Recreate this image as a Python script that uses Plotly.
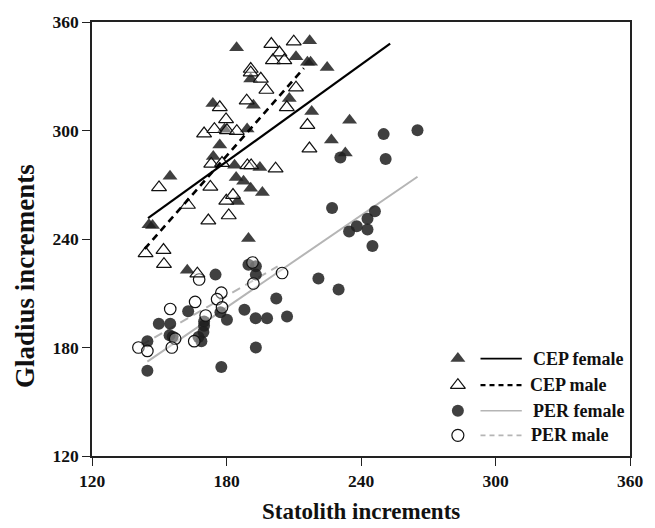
import plotly.graph_objects as go

# ---------------- data ----------------
cep_female_x = [184.5, 217.1, 211.0, 216.1, 217.5, 224.9, 190.8, 208.0, 192.0, 173.9,
                218.0, 234.9, 179.1, 189.2, 226.8, 177.0, 233.0, 174.1, 183.6, 194.9,
                154.8, 184.3, 187.6, 190.8, 196.0, 184.9, 145.4, 147.0, 189.8, 162.5]
cep_female_y = [345.8, 349.7, 340.8, 337.7, 337.7, 334.8, 328.5, 317.7, 314.0, 314.9,
                310.5, 305.6, 300.7, 300.8, 294.7, 292.0, 287.5, 285.6, 280.8, 279.6,
                274.7, 274.0, 272.0, 268.0, 265.7, 260.8, 247.9, 247.5, 240.3, 222.7]

cep_male_x = [200.0, 210.0, 203.6, 200.7, 205.8, 190.8, 190.8, 195.3, 197.8, 211.0,
              189.0, 177.0, 206.9, 179.8, 216.1, 170.0, 174.6, 180.2, 184.6, 217.0,
              173.2, 178.0, 189.3, 191.0, 201.9, 149.9, 172.8, 179.9, 182.9, 162.8,
              181.0, 171.9, 143.9, 151.9, 152.1, 167.0]
cep_male_y = [347.8, 349.1, 343.1, 338.8, 338.8, 334.0, 332.0, 328.6, 322.4, 323.7,
              316.5, 312.8, 312.8, 306.1, 303.0, 298.3, 300.7, 300.1, 299.6, 290.0,
              281.5, 282.0, 280.7, 280.7, 278.9, 268.5, 268.8, 261.1, 264.3, 258.8,
              253.0, 250.2, 232.1, 233.9, 226.1, 220.8]

per_female_x = [250.1, 265.2, 230.8, 251.0, 227.1, 246.2, 242.9, 238.1, 234.7, 242.9,
                245.1, 230.0, 221.0, 189.8, 193.1, 193.1, 175.1, 202.2, 188.0, 193.0,
                198.1, 207.0, 177.3, 180.2, 193.1, 177.7, 162.9, 170.0, 170.0, 169.7,
                168.8, 167.5, 149.8, 154.9, 154.6, 156.0, 144.7, 144.7]
per_female_y = [298.0, 300.1, 285.1, 284.2, 257.1, 255.3, 251.2, 247.0, 244.2, 245.2,
                236.1, 212.1, 218.1, 225.7, 224.9, 220.3, 220.3, 207.1, 200.9, 196.2,
                196.2, 197.1, 199.5, 195.3, 180.0, 169.2, 200.0, 194.4, 192.0, 188.6,
                183.5, 185.8, 193.1, 193.1, 186.8, 186.0, 183.5, 167.2]

per_male_x = [191.6, 192.0, 204.8, 167.8, 177.7, 175.8, 178.0, 166.0, 170.7, 165.6,
              154.9, 157.1, 155.6, 140.7, 144.7]
per_male_y = [227.0, 215.4, 221.2, 217.6, 210.3, 206.7, 202.2, 205.2, 197.7, 183.5,
              201.3, 184.9, 180.0, 180.0, 178.1]

# fitted regression lines (end points)
cep_female_fit_x = [145.0, 253.0]
cep_female_fit_y = [251.5, 348.0]
cep_male_fit_x = [143.5, 214.5]
cep_male_fit_y = [234.5, 334.5]
per_female_fit_x = [144.7, 265.2]
per_female_fit_y = [172.2, 274.4]
per_male_fit_x = [142.0, 202.8]
per_male_fit_y = [181.3, 224.8]

x_ticks = [120, 180, 240, 300, 360]
y_ticks = [120, 180, 240, 300, 360]

series_names = ["CEP female", "CEP male", "PER female", "PER male"]

# ---------------- styles ----------------
W, H = 655, 528
L, R, T, B = 92, 16, 15, 72
FONT = "Liberation Serif"
DARK = "rgba(30,30,30,0.85)"
GRAY = "#b5b5b5"
OPEN_FILL = "rgba(255,255,255,0.35)"

def paper_x(px):
    return (px - L) / (W - L - R)

def paper_y(py):
    return (H - B - py) / (H - T - B)

fig = go.Figure()

# regression lines
fig.add_trace(go.Scatter(x=per_female_fit_x, y=per_female_fit_y, mode="lines",
                         line=dict(color=GRAY, width=2), showlegend=False, hoverinfo="skip"))
fig.add_trace(go.Scatter(x=per_male_fit_x, y=per_male_fit_y, mode="lines",
                         line=dict(color=GRAY, width=2, dash="9px,6px"), showlegend=False, hoverinfo="skip"))

# points
fig.add_trace(go.Scatter(x=per_female_x, y=per_female_y, mode="markers", name="PER female",
                         marker=dict(symbol="circle", size=12, color=DARK, line=dict(width=0)),
                         showlegend=False))
fig.add_trace(go.Scatter(x=per_male_x, y=per_male_y, mode="markers", name="PER male",
                         marker=dict(symbol="circle", size=11.5, color=OPEN_FILL,
                                     line=dict(width=1.2, color="#111")),
                         showlegend=False))
fig.add_trace(go.Scatter(x=cep_female_x, y=cep_female_y, mode="markers", name="CEP female",
                         marker=dict(symbol="triangle-up", size=13, color=DARK, line=dict(width=0)),
                         showlegend=False))
fig.add_trace(go.Scatter(x=cep_male_x, y=cep_male_y, mode="markers", name="CEP male",
                         marker=dict(symbol="triangle-up", size=13, color=OPEN_FILL,
                                     line=dict(width=1.2, color="#111")),
                         showlegend=False))

fig.add_trace(go.Scatter(x=cep_female_fit_x, y=cep_female_fit_y, mode="lines",
                         line=dict(color="black", width=2.2), showlegend=False, hoverinfo="skip"))
fig.add_trace(go.Scatter(x=cep_male_fit_x, y=cep_male_fit_y, mode="lines",
                         line=dict(color="black", width=2.6, dash="7px,5px"), showlegend=False, hoverinfo="skip"))

# ---------------- custom legend ----------------
leg_rows_py = [357, 384, 410, 435]
leg_marker_px = 464
leg_line_px = (487, 529)
leg_text_px = [538, 535, 538, 536]
leg_symbols = ["triangle-up", "triangle-up", "circle", "circle"]
leg_colors = [DARK, "white", DARK, "white"]
leg_lw = [0, 1.2, 0, 1.2]
leg_line_color = ["black", "black", GRAY, GRAY]
leg_line_dash = ["solid", "5px,4px", "solid", "5px,4px"]
leg_line_w = [1.8, 2.4, 1.6, 1.6]

for i, name in enumerate(series_names):
    fig.add_trace(go.Scatter(
        x=[paper_x(leg_marker_px)], y=[paper_y(leg_rows_py[i])], xaxis="x2", yaxis="y2",
        mode="markers", showlegend=False, hoverinfo="skip",
        marker=dict(symbol=leg_symbols[i], size=13 if i < 2 else 12, color=leg_colors[i],
                    line=dict(width=leg_lw[i], color="#111"))))
    fig.add_shape(type="line", xref="paper", yref="paper",
                  x0=paper_x(leg_line_px[0]), x1=paper_x(leg_line_px[1]),
                  y0=paper_y(leg_rows_py[i]), y1=paper_y(leg_rows_py[i]),
                  line=dict(color=leg_line_color[i], width=leg_line_w[i], dash=leg_line_dash[i]))
    fig.add_annotation(text=name, xref="paper", yref="paper",
                       x=paper_x(leg_text_px[i]), y=paper_y(leg_rows_py[i]),
                       xanchor="left", yanchor="middle", showarrow=False,
                       font=dict(family=FONT, size=18, color="#111", weight="bold"))

# axis titles
fig.add_annotation(text="Statolith increments", xref="paper", yref="paper",
                   x=0.5, y=paper_y(512), xanchor="center", yanchor="middle", showarrow=False,
                   font=dict(family=FONT, size=23, color="#111", weight="bold"))
fig.add_annotation(text="Gladius increments", xref="paper", yref="paper",
                   x=paper_x(24), y=paper_y(273), xanchor="center", yanchor="middle",
                   textangle=-90, showarrow=False,
                   font=dict(family=FONT, size=27, color="#111", weight="bold"))

axis_common = dict(showgrid=False, zeroline=False, showline=True, linecolor="#222",
                   linewidth=1.6, mirror=True, ticks="outside", ticklen=8, tickwidth=1.4,
                   tickcolor="#222",
                   tickfont=dict(family=FONT, size=17.5, color="#111", weight="bold"))

fig.update_layout(
    width=W, height=H,
    margin=dict(l=L, r=R, t=T, b=B),
    paper_bgcolor="white", plot_bgcolor="white",
    showlegend=False,
    xaxis=dict(range=[120, 360], tickvals=x_ticks, **axis_common),
    yaxis=dict(range=[120, 360], tickvals=y_ticks, **axis_common),
    xaxis2=dict(range=[0, 1], overlaying="x", visible=False, fixedrange=True),
    yaxis2=dict(range=[0, 1], overlaying="y", visible=False, fixedrange=True),
)

fig.write_html("out.html", config={"displayModeBar": False},
               post_script="document.body.style.margin='0';document.body.style.overflow='hidden';")
